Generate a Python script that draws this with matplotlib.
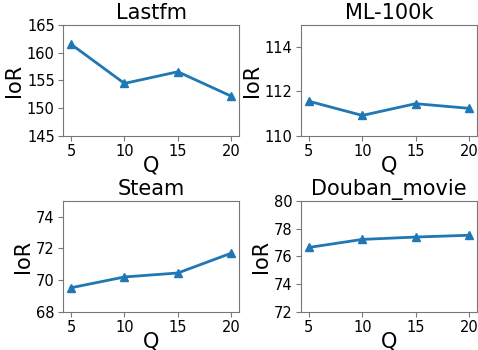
import matplotlib
matplotlib.use("Agg")
import matplotlib.pyplot as plt

q = [5, 10, 15, 20]

lastfm = [161.5, 154.45, 156.55, 152.15]
ml100k = [111.56, 110.92, 111.45, 111.24]
steam = [69.52, 70.2, 70.45, 71.7]
douban = [76.64, 77.22, 77.39, 77.52]

names = ["Lastfm", "ML-100k", "Steam", "Douban_movie"]
series = [lastfm, ml100k, steam, douban]
ylims = [(145, 165), (110, 115), (68, 75), (72, 80)]
yticks = [[145, 150, 155, 160, 165], [110, 112, 114], [68, 70, 72, 74], [72, 74, 76, 78, 80]]

fig, axes = plt.subplots(2, 2, figsize=(4.78, 3.5), dpi=100)
plt.subplots_adjust(left=0.132, right=0.998, top=0.929, bottom=0.109,
                    wspace=0.35, hspace=0.585)

for ax, name, vals, yl, yt in zip(axes.flat, names, series, ylims, yticks):
    ax.plot(q, vals, marker="^", color="#1f77b4", linewidth=2, markersize=6)
    ax.set_title(name, fontsize=15, pad=4)
    ax.set_xlabel("Q", fontsize=15, labelpad=-3)
    ax.set_ylabel("IoR", fontsize=15, labelpad=2)
    ax.set_ylim(*yl)
    ax.set_yticks(yt)
    ax.set_xticks(q)
    ax.tick_params(labelsize=10.5, pad=2.5, color="#777777")
    for sp in ax.spines.values():
        sp.set_color("#777777")

plt.savefig("out.png")
